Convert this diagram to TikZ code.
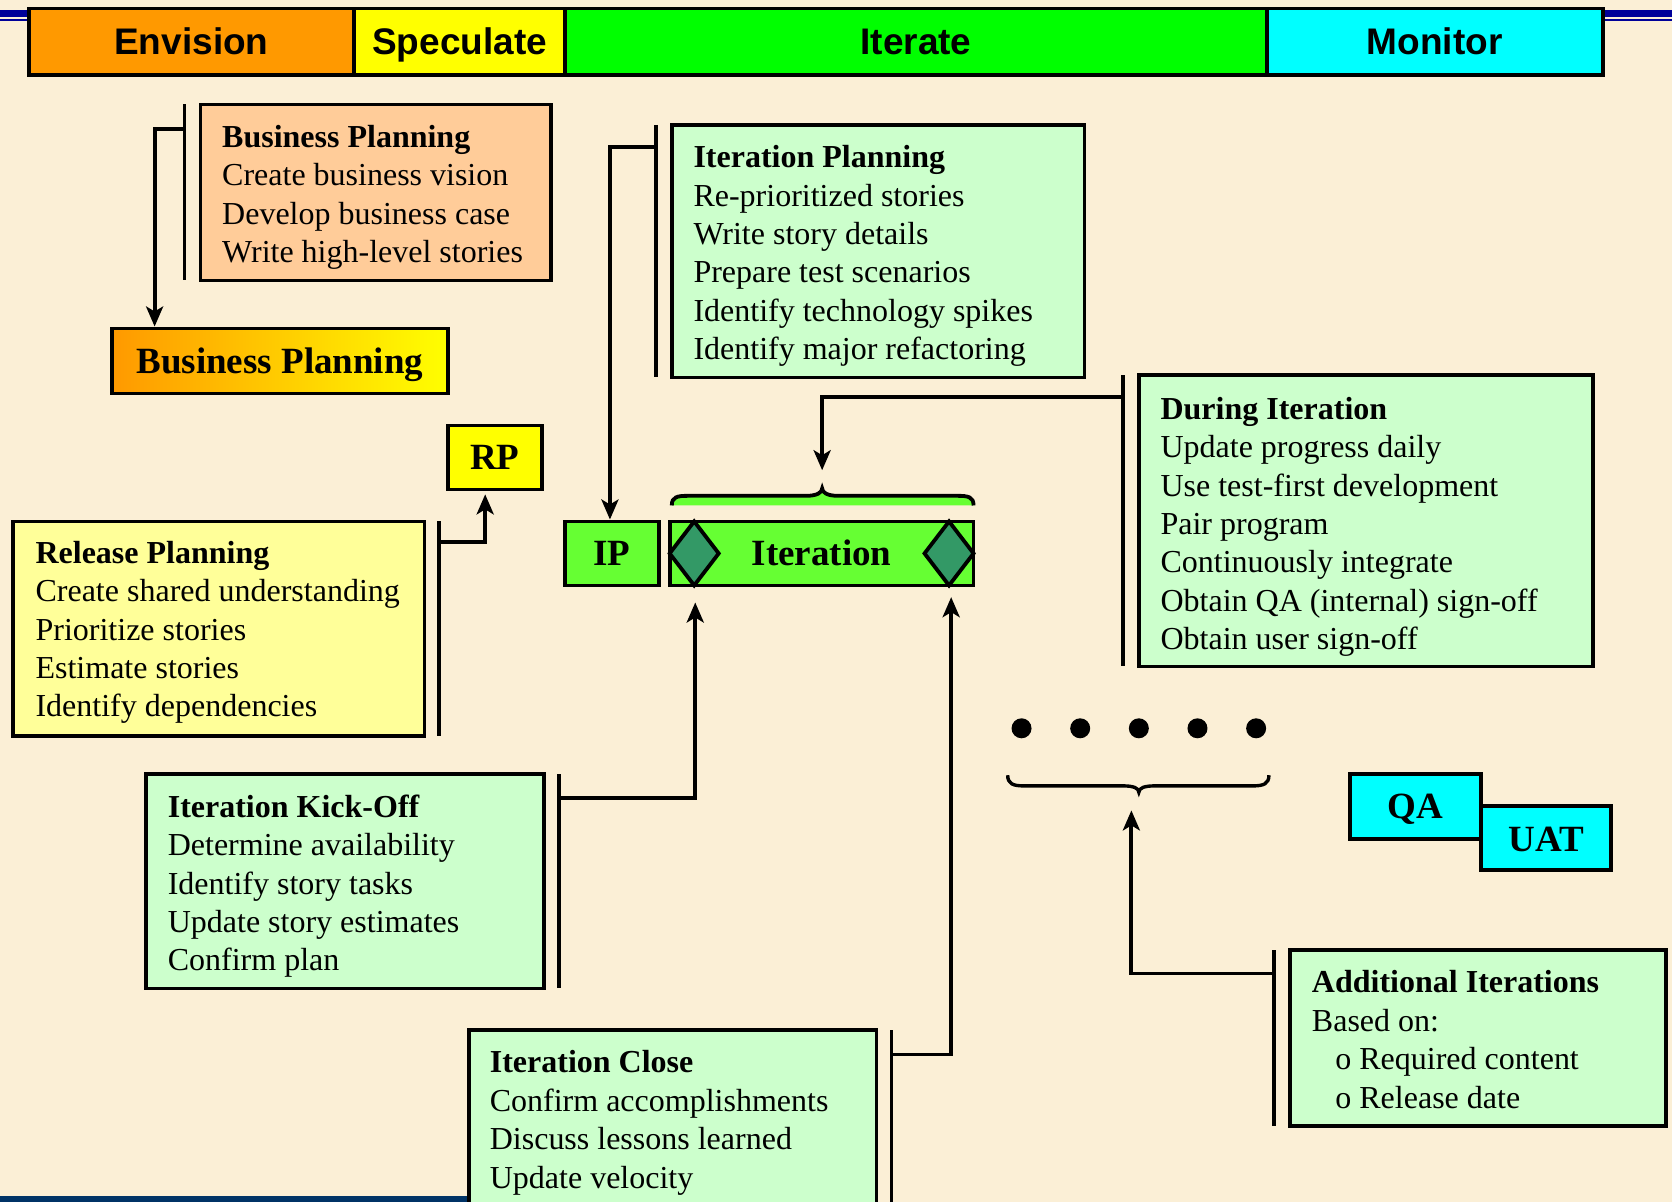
\documentclass[tikz,border=0pt]{standalone}
\usepackage{fontspec}
\setmainfont{Liberation Serif}
\newfontfamily\hdrfont{Liberation Sans}
\usetikzlibrary{arrows.meta,fit,calc}

\definecolor{paper}{HTML}{FBEFD6}
\definecolor{envorange}{HTML}{FF9900}
\definecolor{specyellow}{HTML}{FFFF00}
\definecolor{itergreen}{HTML}{00FF00}
\definecolor{moncyan}{HTML}{00FFFF}
\definecolor{peach}{HTML}{FFCC99}
\definecolor{paleyellow}{HTML}{FFFF99}
\definecolor{palegreen}{HTML}{CCFFCC}
\definecolor{brightgreen}{HTML}{66FF33}
\definecolor{gatecolor}{HTML}{339966}
\definecolor{rulerblue}{HTML}{000099}
\definecolor{footnavy}{HTML}{003366}

\tikzset{
  box/.style={draw=black, line width=1.9pt, inner sep=0pt},
  hdrlbl/.style={font=\hdrfont\bfseries\fontsize{18.5}{22}\selectfont, text height=13.2pt, text depth=0pt, inner sep=0pt},
  tag/.style={font=\bfseries\fontsize{18.5}{22}\selectfont, text height=12.2pt, text depth=0pt, inner sep=0pt},
  txt/.style={anchor=north west, inner sep=0pt, align=left, font=\fontsize{16}{19.2}\selectfont},
  bar/.style={line width=1.9pt},
  conn/.style={line width=1.9pt, -{Stealth[length=10pt,width=8.5pt,inset=2.5pt]}},
}

\begin{document}
\begin{tikzpicture}[x=0.5332pt, y=-0.5332pt]
\useasboundingbox (0,0) rectangle (1568,1127);
\fill[paper] (0,0) rectangle (1568,1127);

% rules at the page edges
\fill[rulerblue] (0,9.5) rectangle (28,15.5);
\fill[rulerblue] (0,18) rectangle (28,20);
\fill[rulerblue] (1503,9.5) rectangle (1568,15.5);
\fill[rulerblue] (1503,18) rectangle (1568,20);
\fill[footnavy] (0,1121.5) rectangle (470,1127);

% phase header
\node[box, fill=envorange, fit={(27,8) (332,70)}] (env) {};
\node[box, fill=specyellow, fit={(332,8) (530,70)}] (spec) {};
\node[box, fill=itergreen, fit={(530,8) (1188,70)}] (iter) {};
\node[box, fill=moncyan, fit={(1188,8) (1503,70)}] (mon) {};
\node[hdrlbl] (envL) at (env.center) {Envision};
\node[hdrlbl] (specL) at (spec.center) {Speculate};
\node[hdrlbl] (iterL) at (iter.center) {Iterate};
\node[hdrlbl] (monL) at (mon.center) {Monitor};

% activity boxes
\node[box, fill=peach, fit={(188,98) (517,263)}] (bp) {};
\node[box, left color=envorange, right color=specyellow, fit={(105,308) (420,369)}] (bpg) {};
\node[box, fill=palegreen, fit={(630,117) (1017,354)}] (ipl) {};
\node[box, fill=palegreen, fit={(1068,352) (1494,625)}] (di) {};
\node[box, fill=specyellow, fit={(420,399) (508,459)}] (rp) {};
\node[box, fill=paleyellow, fit={(12,489) (398,690)}] (rpl) {};
\node[box, fill=brightgreen, fit={(530,489) (618,549)}] (ip) {};
\node[box, fill=brightgreen, fit={(628,489) (913,549)}] (it) {};
\node[box, fill=palegreen, fit={(137,726) (510,927)}] (ko) {};
\node[box, fill=palegreen, fit={(440,966) (822,1140)}] (ic) {};
\node[box, fill=palegreen, fit={(1210,891) (1562,1056)}] (ai) {};
\node[box, fill=moncyan, fit={(1266,726) (1389,787)}] (qa) {};
\node[box, fill=moncyan, fit={(1389,756) (1511,816)}] (uat) {};

% milestone gates inside the iteration bar
\draw[line width=1.9pt, fill=gatecolor] (628,519) -- (651,489) -- (674,519) -- (651,549) -- cycle;
\draw[line width=1.9pt, fill=gatecolor] (867,519) -- (890,489) -- (913,519) -- (890,549) -- cycle;

% brace over the iteration
\fill[brightgreen] (630,474) .. controls (630,466) and (635,465) .. (645,465) -- (756,465)
  .. controls (766,465) and (771,462) .. (771,458) .. controls (771,462) and (776,465) .. (786,465)
  -- (898,465) .. controls (908,465) and (913,466) .. (913,474) -- cycle;
\draw[line width=1.9pt] (630,474) .. controls (630,466) and (635,465) .. (645,465) -- (756,465)
  .. controls (766,465) and (771,462) .. (771,458) .. controls (771,462) and (776,465) .. (786,465)
  -- (898,465) .. controls (908,465) and (913,466) .. (913,474);

% further iterations
\foreach \dx in {958,1013,1068,1123,1178} \fill (\dx,683) circle (5pt);
\draw[line width=1.7pt] (945,727) .. controls (945,735) and (950,737) .. (960,737) -- (1053,737)
  .. controls (1063,737) and (1068,739) .. (1068,743) .. controls (1068,739) and (1073,737) .. (1083,737)
  -- (1175,737) .. controls (1185,737) and (1190,735) .. (1190,727);

% labels
\node[tag] (bpgL) at (bpg.center) {Business Planning};
\node[tag] (rpL) at (rp.center) {RP};
\node[tag] (ipL) at (ip.center) {IP};
\node[tag] (itL) at (it.center) {Iteration};
\node[tag] (qaL) at (qa.center) {QA};
\node[tag] (uatL) at ($(uat.center)+(0,1)$) {UAT};

\node[txt] (bpT) at (208,117) {\textbf{Business Planning}\\Create business vision\\Develop business case\\Write high-level stories};
\node[txt] (iplT) at (650,136) {\textbf{Iteration Planning}\\Re-prioritized stories\\Write story details\\Prepare test scenarios\\Identify technology spikes\\Identify major refactoring};
\node[txt] (diT) at (1088,372) {\textbf{During Iteration}\\Update progress daily\\Use test-first development\\Pair program\\Continuously integrate\\Obtain QA (internal) sign-off\\Obtain user sign-off};
\node[txt] (rplT) at (33,507) {\textbf{Release Planning}\\Create shared understanding\\Prioritize stories\\Estimate stories\\Identify dependencies};
\node[txt] (koT) at (157,745) {\textbf{Iteration Kick-Off}\\Determine availability\\Identify story tasks\\Update story estimates\\Confirm plan};
\node[txt] (icT) at (459,985) {\textbf{Iteration Close}\\Confirm accomplishments\\Discuss lessons learned\\Update velocity};
\node[txt] (aiT) at (1230,910) {\textbf{Additional Iterations}\\Based on:\\\hspace*{11.7pt}o Required content\\\hspace*{11.7pt}o Release date};

% side bars and their connectors
\coordinate (bpTop) at (173,98);   \coordinate (bpBot) at (173,263);
\coordinate (bpOut) at (173,121);  \coordinate (bpKnee) at (145,121);
\draw[bar] (bpTop) -- (bpBot);
\draw[conn] (bpOut) -- (bpKnee) -- (bpKnee |- bpg.north);

\coordinate (iplTop) at (615,117); \coordinate (iplBot) at (615,354);
\coordinate (iplOut) at (615,138); \coordinate (iplKnee) at (572,138);
\draw[bar] (iplTop) -- (iplBot);
\draw[conn] (iplOut) -- (iplKnee) -- (iplKnee |- ip.north);

\coordinate (diTop) at (1053,352); \coordinate (diBot) at (1053,625);
\coordinate (diOut) at (1053,372); \coordinate (diKnee) at (771,372);
\coordinate (braceTip) at (771,441);
\draw[bar] (diTop) -- (diBot);
\draw[conn] (diOut) -- (diKnee) -- (braceTip);

\coordinate (rplTop) at (412,489); \coordinate (rplBot) at (412,690);
\coordinate (rplOut) at (412,508); \coordinate (rplKnee) at (455,508);
\draw[bar] (rplTop) -- (rplBot);
\draw[conn, shorten >=1.5pt] (rplOut) -- (rplKnee) -- (rplKnee |- rp.south);

\coordinate (koTop) at (524,726);  \coordinate (koBot) at (524,927);
\coordinate (koOut) at (524,748);  \coordinate (koKnee) at (652,748);
\coordinate (gateA) at (652,565);
\draw[bar] (koTop) -- (koBot);
\draw[conn] (koOut) -- (koKnee) -- (gateA);

\coordinate (icTop) at (836,966);  \coordinate (icBot) at (836,1127);
\coordinate (icOut) at (836,989);  \coordinate (icKnee) at (892,989);
\coordinate (gateB) at (892,560);
\draw[bar] (icTop) -- (icBot);
\draw[conn] (icOut) -- (icKnee) -- (gateB);

\coordinate (aiTop) at (1195,891); \coordinate (aiBot) at (1195,1056);
\coordinate (aiOut) at (1195,913); \coordinate (aiKnee) at (1061,913);
\coordinate (moreTip) at (1061,760);
\draw[bar] (aiTop) -- (aiBot);
\draw[conn] (aiOut) -- (aiKnee) -- (moreTip);
\end{tikzpicture}
\end{document}
